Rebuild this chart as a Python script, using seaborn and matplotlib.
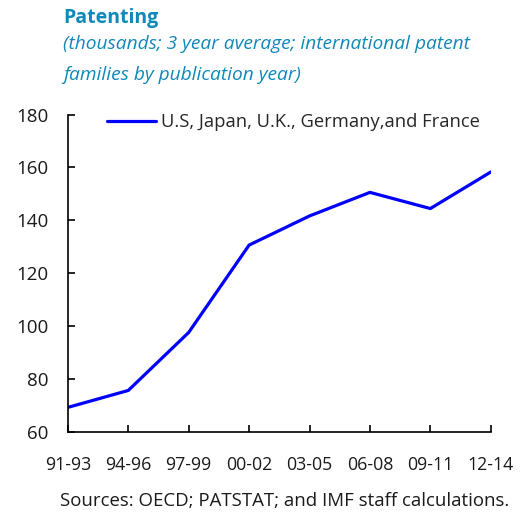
import pandas as pd
import seaborn as sns
import matplotlib.pyplot as plt

periods = ["91-93", "94-96", "97-99", "00-02", "03-05", "06-08", "09-11", "12-14"]
patents = [69.4, 75.8, 97.7, 130.7, 141.7, 150.6, 144.5, 158.3]
series_name = "U.S, Japan, U.K., Germany,and France"

df = pd.DataFrame({"period": periods, "patents": patents})

sns.set_theme(style="ticks")
plt.rcParams["font.family"] = ["Open Sans", "DejaVu Sans"]

fig = plt.figure(figsize=(5.3, 5.15), dpi=100)
ax = fig.add_axes([0.128, 0.1606, 0.798, 0.617])

sns.lineplot(data=df, x="period", y="patents", color="#0000ff", linewidth=2.3,
             label=series_name, ax=ax, sort=False)

ax.set_xlim(0, len(periods) - 1)
ax.set_ylim(60, 180)
ax.set_yticks(range(60, 181, 20))
ax.set_xlabel("")
ax.set_ylabel("")
sns.despine(ax=ax)
for s in ["left", "bottom"]:
    ax.spines[s].set_linewidth(1.2)
    ax.spines[s].set_color("black")
ax.tick_params(direction="in", length=5, width=1.2, colors="black")
ax.tick_params(axis="x", pad=17, labelsize=12.8)
ax.tick_params(axis="y", pad=14, labelsize=13.5)
for lab in ax.get_xticklabels() + ax.get_yticklabels():
    lab.set_color("#1a1a1a")

ax.legend(loc="upper left", bbox_to_anchor=(0.053, 1.056), frameon=False,
          fontsize=13.2, handlelength=2.7, handletextpad=0.25)

teal = "#0f88ba"
fig.text(0.119, 0.985, "Patenting", color=teal, fontsize=14, fontweight="bold",
         va="top", ha="left")
fig.text(0.119, 0.932, "(thousands; 3 year average; international patent\nfamilies by publication year)",
         color=teal, fontsize=13.8, style="italic", va="top", ha="left", linespacing=1.9)
fig.text(0.113, 0.018, "Sources: OECD; PATSTAT; and IMF staff calculations.",
         color="#1a1a1a", fontsize=13.4, ha="left", va="baseline")

fig.savefig("out.png", dpi=100)
